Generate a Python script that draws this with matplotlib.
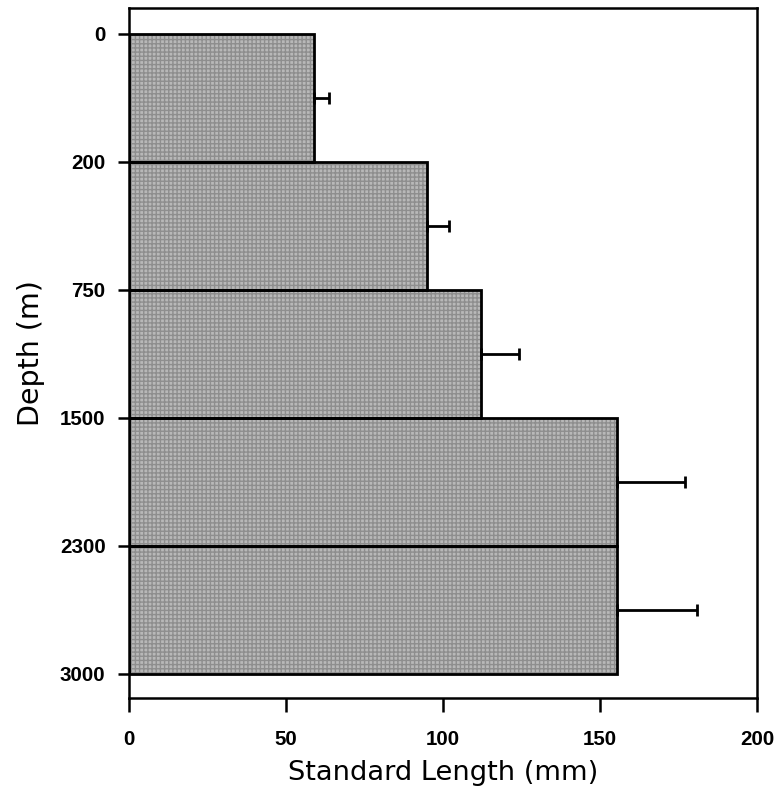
import numpy as np
import matplotlib.pyplot as plt

# depth bins (m) and mean standard length (mm) with +SE
depth_edges = ["0", "200", "750", "1500", "2300", "3000"]
mean_sl = [59, 95, 112, 155.5, 155.5]
err_sl = [4.6, 6.9, 12.2, 21.5, 25.5]

plt.rcParams.update({"font.family": "DejaVu Sans"})

fig = plt.figure(figsize=(7.78, 7.9), dpi=100)
ax = fig.add_axes([0.166, 0.1165, 0.807, 0.8735])

ypos = np.arange(len(mean_sl)) + 0.5
ax.barh(ypos, mean_sl, height=1.0, color="#b8b8b8", edgecolor="#8e8e8e",
        linewidth=0, hatch="++++", zorder=2)
ax.barh(ypos, mean_sl, height=1.0, fill=False, edgecolor="black",
        linewidth=2.0, zorder=3)
ax.errorbar(mean_sl, ypos, xerr=[np.zeros(len(err_sl)), err_sl], fmt="none",
            ecolor="black", elinewidth=2.0, capsize=4, capthick=2.0, zorder=4)

ax.set_xlim(0, 200)
ax.set_ylim(5.19, -0.2)
ax.set_yticks(np.arange(len(depth_edges)))
ax.set_yticklabels(depth_edges)
ax.set_xticks([0, 50, 100, 150, 200])

for s in ax.spines.values():
    s.set_linewidth(1.8)
ax.tick_params(axis="y", direction="out", length=8, width=1.8, pad=9)
ax.tick_params(axis="x", direction="out", length=10, width=1.8, pad=13)
for lab in ax.get_xticklabels() + ax.get_yticklabels():
    lab.set_fontfamily("Liberation Sans")
    lab.set_fontweight("bold")
    lab.set_fontsize(14.8)

ax.set_xlabel("Standard Length (mm)", fontsize=19.6, labelpad=8)
ax.set_ylabel("Depth (m)", fontsize=20.5, labelpad=11)

fig.savefig("out.png", dpi=100)
